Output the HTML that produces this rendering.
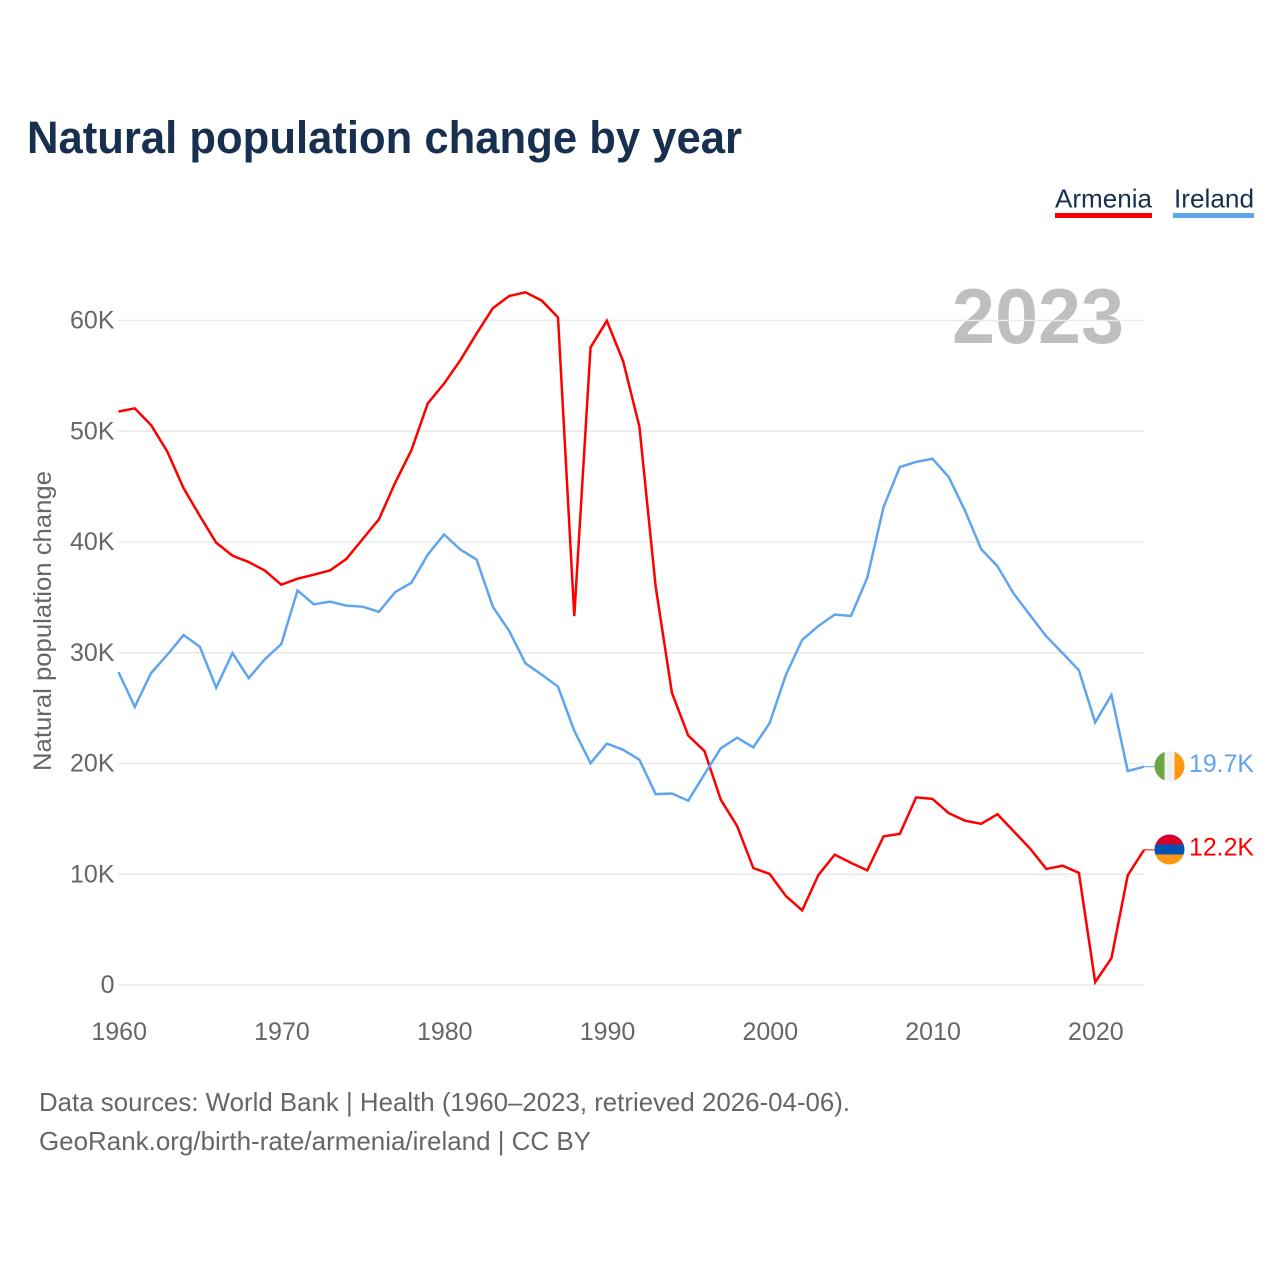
<!DOCTYPE html>
<html>
<head>
<meta charset="utf-8">
<title>Natural population change by year</title>
<style>
html,body{margin:0;padding:0;background:#fff;}
svg{display:block;}
text{font-family:"Liberation Sans",sans-serif;}
</style>
</head>
<body>
<svg id="chart" xmlns="http://www.w3.org/2000/svg" width="1280" height="1280" viewBox="0 0 1280 1280">
  <rect x="0" y="0" width="1280" height="1280" fill="#ffffff"/>
  <text x="27" y="153" font-size="45" font-weight="700" fill="#17304f" textLength="715" lengthAdjust="spacingAndGlyphs">Natural population change by year</text>
  <g>
    <text x="1055" y="207.5" font-size="26" fill="#17304f" textLength="97" lengthAdjust="spacingAndGlyphs">Armenia</text>
    <rect x="1055" y="213" width="97" height="5" fill="#ff0000"/>
  </g>
  <g>
    <text x="1174" y="207.5" font-size="26" fill="#17304f" textLength="80" lengthAdjust="spacingAndGlyphs">Ireland</text>
    <rect x="1173" y="213" width="81" height="5" fill="#5fa5ee"/>
  </g>
  <text x="952" y="343" font-size="78" font-weight="700" fill="#bfbfbf" textLength="172" lengthAdjust="spacingAndGlyphs">2023</text>
  <g id="grid"></g>
  <g id="yticks"></g>
  <g id="xticks"></g>
  <text transform="translate(51,621) rotate(-90)" text-anchor="middle" font-size="25" fill="#666666" textLength="300" lengthAdjust="spacingAndGlyphs">Natural population change</text>
  <g id="series"></g>
  <g id="ends"></g>
  <text x="39" y="1111" font-size="26" fill="#666666" textLength="811" lengthAdjust="spacingAndGlyphs">Data sources: World Bank | Health (1960–2023, retrieved 2026-04-06).</text>
  <text x="39" y="1150" font-size="26" fill="#666666" textLength="552" lengthAdjust="spacingAndGlyphs">GeoRank.org/birth-rate/armenia/ireland | CC BY</text>
</svg>
<script>
const startYear = 1960;
const armeniaValues = [51.77,52.07,50.56,48.16,44.85,42.35,39.94,38.77,38.19,37.41,36.15,36.69,37.05,37.44,38.47,40.27,42.05,45.36,48.31,52.52,54.3,56.42,58.82,61.12,62.21,62.55,61.8,60.28,33.31,57.57,59.97,56.33,50.42,35.96,26.38,22.52,21.12,16.73,14.36,10.56,10.03,8.03,6.74,9.94,11.77,11.03,10.35,13.42,13.65,16.94,16.81,15.52,14.84,14.55,15.42,13.87,12.32,10.48,10.77,10.13,0.26,2.42,9.9,12.2];
const irelandValues = [28.25,25.12,28.16,29.82,31.6,30.54,26.84,29.97,27.71,29.43,30.78,35.63,34.37,34.61,34.25,34.16,33.7,35.48,36.33,38.86,40.68,39.32,38.41,34.15,31.97,29.05,28.02,26.94,22.95,20.03,21.8,21.24,20.34,17.23,17.29,16.64,19.04,21.37,22.33,21.46,23.64,28.0,31.16,32.42,33.45,33.32,36.77,43.16,46.77,47.23,47.52,45.87,42.84,39.35,37.81,35.32,33.39,31.48,29.97,28.42,23.71,26.19,19.32,19.71];
const yTickValues = [0,10,20,30,40,50,60];
const yTickLabels = ["0","10K","20K","30K","40K","50K","60K"];
const xTickYears = [1960,1970,1980,1990,2000,2010,2020];

const NS = "http://www.w3.org/2000/svg";
function xScale(year){ return 118.5 + (year - 1960) * (1144 - 118.5) / 63; }
function yScale(v){ return 985 - v * 11.075; }
function make(tag, attrs, parent, txt){
  const el = document.createElementNS(NS, tag);
  for (const k in attrs) el.setAttribute(k, attrs[k]);
  if (txt !== undefined) el.textContent = txt;
  parent.appendChild(el);
  return el;
}
const gridG = document.getElementById("grid");
const yG = document.getElementById("yticks");
const xG = document.getElementById("xticks");
const seriesG = document.getElementById("series");
const endsG = document.getElementById("ends");

yTickValues.forEach(function(v, i){
  const line = make("line", {x1:118, x2:1144, y1:yScale(v), y2:yScale(v), stroke:"#eaeaea", "stroke-width":1.5}, gridG);
  
  
  const t = make("text", {x:114.5, y:yScale(v)+8, "text-anchor":"end", "font-size":25, fill:"#666666"}, yG, yTickLabels[i]);
  
  
});
xTickYears.forEach(function(yr){
  const t = make("text", {x:xScale(yr)+0.7, y:1040, "text-anchor":"middle", "font-size":25, fill:"#666666"}, xG, String(yr));
  
  
});
function linePoints(vals){
  return vals.map(function(v, i){ return xScale(startYear + i).toFixed(2) + "," + yScale(v).toFixed(2); }).join(" ");
}
const armeniaLine = make("polyline", {points:linePoints(armeniaValues), fill:"none", stroke:"#ff0000", "stroke-width":2.5, "stroke-linejoin":"miter"}, seriesG);


const irelandLine = make("polyline", {points:linePoints(irelandValues), fill:"none", stroke:"#5fa5ee", "stroke-width":2.5, "stroke-linejoin":"miter"}, seriesG);



const defs = make("defs", {}, endsG);
function flagClip(id, cy){
  const c = make("clipPath", {id:id}, defs);
  make("circle", {cx:1169.5, cy:cy, r:15}, c);
}
const lastIreland = irelandValues[irelandValues.length - 1];
const lastArmenia = armeniaValues[armeniaValues.length - 1];
const irelandY = yScale(lastIreland);
const armeniaY = yScale(lastArmenia);
const irelandFlagY = irelandY - 0.6;
const armeniaFlagY = armeniaY - 0.4;
flagClip("clip-ie", irelandFlagY);
flagClip("clip-am", armeniaFlagY);

const irelandStub = make("line", {x1:1144, x2:1155, y1:irelandY, y2:irelandY, stroke:"#5fa5ee", "stroke-width":1}, endsG);


const armeniaStub = make("line", {x1:1144, x2:1155, y1:armeniaY, y2:armeniaY, stroke:"#ff0000", "stroke-width":1}, endsG);



const ieFlag = make("g", {"clip-path":"url(#clip-ie)"}, endsG);


make("rect", {x:1154.5, y:irelandFlagY-15, width:10, height:30, fill:"#6da544"}, ieFlag);
make("rect", {x:1164.5, y:irelandFlagY-15, width:10, height:30, fill:"#f0f0f0"}, ieFlag);
make("rect", {x:1174.5, y:irelandFlagY-15, width:10, height:30, fill:"#ff9811"}, ieFlag);

const amFlag = make("g", {"clip-path":"url(#clip-am)"}, endsG);


make("rect", {x:1154.5, y:armeniaFlagY-15, width:30, height:10, fill:"#d80027"}, amFlag);
make("rect", {x:1154.5, y:armeniaFlagY-5, width:30, height:10, fill:"#0052b4"}, amFlag);
make("rect", {x:1154.5, y:armeniaFlagY+5, width:30, height:10, fill:"#ff9811"}, amFlag);

const irelandValueLabel = make("text", {x:1189, y:irelandY+5.5, "font-size":25, fill:"#5fa5ee", textLength:65, lengthAdjust:"spacingAndGlyphs"}, endsG, lastIreland.toFixed(1) + "K");


const armeniaValueLabel = make("text", {x:1189, y:armeniaY+5.5, "font-size":25, fill:"#ff0000", textLength:65, lengthAdjust:"spacingAndGlyphs"}, endsG, lastArmenia.toFixed(1) + "K");


</script>
</body>
</html>
